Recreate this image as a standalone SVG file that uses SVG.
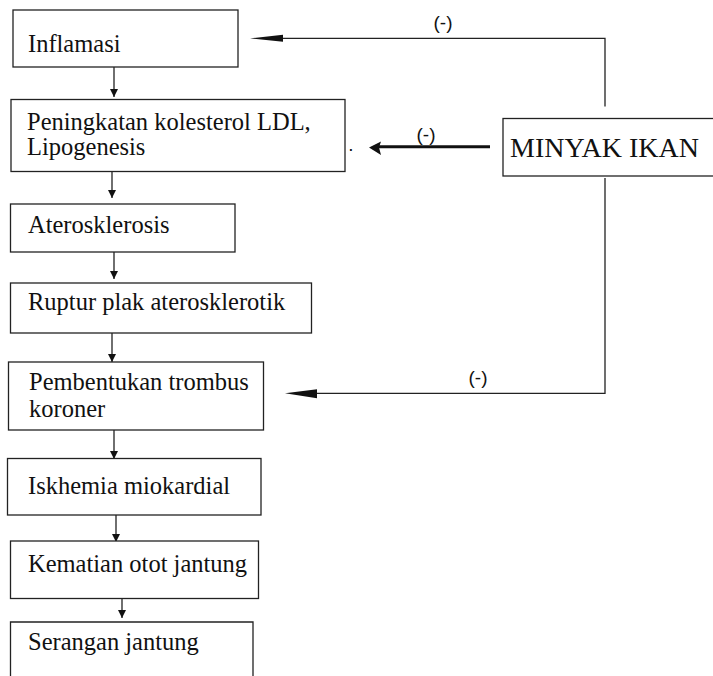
<svg xmlns="http://www.w3.org/2000/svg" width="713" height="676" viewBox="0 0 713 676">
<style>
.box{fill:#fff;stroke:#222;stroke-width:1.3}
.t{font-family:"Liberation Serif","Times New Roman",serif;font-size:24.5px;fill:#111}
.big{font-family:"Liberation Serif","Times New Roman",serif;font-size:28px;fill:#111}
.lab{font-family:"Liberation Sans",Arial,sans-serif;font-size:19px;fill:#111;text-anchor:middle}
.c{fill:none;stroke:#222;stroke-width:1.3}
.ah{fill:#111}
</style>
<defs>
<marker id="sm" markerUnits="userSpaceOnUse" markerWidth="9" markerHeight="9" refX="8" refY="4.5" orient="auto">
<path d="M0,0.5 L8,4.5 L0,8.5 z" fill="#111"/>
</marker>
</defs>
<rect width="713" height="676" fill="#fff"/>
<g id="connectors">
<line class="c" x1="114" y1="67" x2="114" y2="97" marker-end="url(#sm)"/>
<line class="c" x1="112" y1="172" x2="112" y2="198" marker-end="url(#sm)"/>
<line class="c" x1="114" y1="252" x2="114" y2="279" marker-end="url(#sm)"/>
<line class="c" x1="112" y1="333" x2="112" y2="362" marker-end="url(#sm)"/>
<line class="c" x1="114" y1="430" x2="114" y2="459" marker-end="url(#sm)"/>
<line class="c" x1="116" y1="515" x2="116" y2="542" marker-end="url(#sm)"/>
<line class="c" x1="122" y1="598" x2="122" y2="618" marker-end="url(#sm)"/>
<polyline class="c" points="605,106.5 605,38.3 280,38.3"/>
<path class="ah" d="M250,38.3 L283,34.8 L283,41.8 z"/>
<line x1="490" y1="146.7" x2="378" y2="146.7" stroke="#111" stroke-width="3"/>
<path class="ah" d="M369,147.5 L381,141.5 L379,147.5 L381,155 z"/>
<polyline class="c" points="605,178 605,393.3 314,393.3"/>
<path class="ah" d="M285,393.3 L317,389.3 L317,398.3 z"/>
<text class="lab" x="443" y="29">(-)</text>
<text class="lab" x="426" y="141">(-)</text>
<text class="lab" x="478" y="384">(-)</text>
<text class="lab" x="351" y="151" font-size="10">.</text>
</g>
<g id="inflamasi">
<rect class="box" x="13" y="10" width="225" height="57"/>
<text class="t" x="28" y="52">Inflamasi</text>
</g>
<g id="peningkatan">
<rect class="box" x="11" y="99.5" width="334" height="72"/>
<text class="t" x="27" y="130">Peningkatan kolesterol LDL,</text>
<text class="t" x="27" y="155">Lipogenesis</text>
</g>
<g id="aterosklerosis">
<rect class="box" x="10.5" y="204" width="224.5" height="48"/>
<text class="t" x="28" y="233">Aterosklerosis</text>
</g>
<g id="ruptur">
<rect class="box" x="10.5" y="283" width="301" height="50"/>
<text class="t" x="28" y="310">Ruptur plak aterosklerotik</text>
</g>
<g id="pembentukan">
<rect class="box" x="8.5" y="362" width="255" height="68"/>
<text class="t" x="29" y="390">Pembentukan trombus</text>
<text class="t" x="29" y="416.5">koroner</text>
</g>
<g id="iskhemia">
<rect class="box" x="7.5" y="458.5" width="253.5" height="56.5"/>
<text class="t" x="28" y="494">Iskhemia miokardial</text>
</g>
<g id="kematian">
<rect class="box" x="10.5" y="541" width="248" height="57.5"/>
<text class="t" x="28" y="572">Kematian otot jantung</text>
</g>
<g id="serangan">
<path class="box" d="M10.5,680 L10.5,622 L253,622 L253,680"/>
<text class="t" x="28" y="650">Serangan jantung</text>
</g>
<g id="minyak">
<rect class="box" x="503" y="118.5" width="212" height="57.5"/>
<text class="big" x="510" y="157">MINYAK IKAN</text>
</g>
</svg>
